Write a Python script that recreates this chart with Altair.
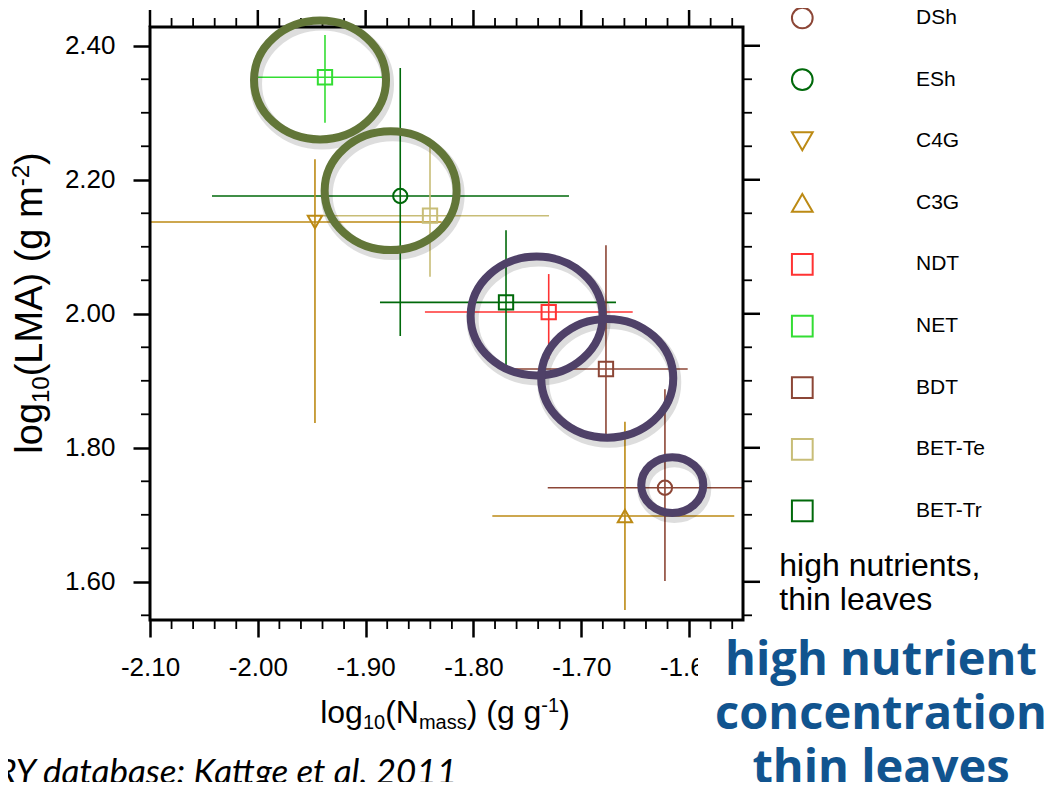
import altair as alt
import pandas as pd

# ---------------- data ----------------
pft = ["DSh", "ESh", "C4G", "C3G", "NDT", "NET", "BDT", "BET-Te", "BET-Tr"]
pft_shapes = ["circle", "circle", "triangle-down", "triangle-up", "square",
              "square", "square", "square", "square"]
pft_colors = ["#8C4636", "#00690A", "#BC8A14", "#BC8A14", "#FF3333",
              "#33DD33", "#8C4636", "#C8BD77", "#00690A"]

x_mean = [-1.6224, -1.8679, -1.9470, -1.6595, -1.7302, -1.9377, -1.6771, -1.8403, -1.7698]
x_lo = [-1.7311, -2.0425, -2.1200, -1.7825, -1.8450, -2.0033, -1.7640, -1.9423, -1.8867]
x_hi = [-1.5400, -1.7114, -1.8295, -1.5581, -1.6523, -1.8805, -1.6013, -1.7299, -1.6678]
y_mean = [1.7404, 2.1758, 2.1370, 1.6982, 2.0026, 2.3530, 1.9176, 2.1464, 2.0171]
y_lo = [1.6011, 1.9668, 1.8370, 1.5579, 1.9330, 2.2850, 1.8141, 2.0553, 1.9186]
y_hi = [1.8873, 2.3668, 2.2305, 1.8389, 2.0593, 2.4160, 2.1022, 2.2549, 2.1246]

# highlight rings (annotation)
ring_x = [-1.9423, -1.8768, -1.7414, -1.6759, -1.6156]
ring_y = [2.3489, 2.1837, 1.9967, 1.9037, 1.7444]
ring_group = ["olive", "olive", "purple", "purple", "purple"]
ring_kind = ["large", "large", "large", "large", "small"]

# axis ticks
x_major = [-2.10, -2.00, -1.90, -1.80, -1.70, -1.60]
x_minor = [-2.08, -2.06, -2.04, -2.02, -1.98, -1.96, -1.94, -1.92, -1.88, -1.86,
           -1.84, -1.82, -1.78, -1.76, -1.74, -1.72, -1.68, -1.66, -1.64, -1.62,
           -1.58, -1.56]
y_major = [1.60, 1.80, 2.00, 2.20, 2.40]
y_minor = [1.55, 1.65, 1.70, 1.75, 1.85, 1.90, 1.95, 2.05, 2.10, 2.15, 2.25, 2.30, 2.35]

# ---------------- layout / style ----------------
W, H = 593, 593
FONT = "Liberation Sans"
xs = alt.Scale(domain=[-2.10, -1.55], nice=False, zero=False)
ys = alt.Scale(domain=[1.543, 2.428], nice=False, zero=False)

# Arial / Liberation Sans advance widths (per 1000 em) for rich-text titles
AW = {'l': 222, 'o': 556, 'g': 556, '1': 556, '0': 556, '(': 333, ')': 333,
      'N': 722, 'm': 833, 'a': 556, 's': 500, ' ': 278, '-': 333, 'L': 556,
      'M': 833, 'A': 667, '2': 556}


def twidth(s, size):
    return sum(AW[c] for c in s) * size / 1000.0


one = pd.DataFrame({"k": [0]})


def rich_text(pieces, x0, y0, angle=0):
    layers = []
    adv = 0.0
    for txt, size, dy in pieces:
        kw = dict(align="left", baseline="alphabetic", fontSize=size, font=FONT,
                  color="black", dx=adv, dy=dy)
        if angle:
            kw["angle"] = angle
        layers.append(alt.Chart(one).mark_text(**kw).encode(
            x=alt.value(x0), y=alt.value(y0), text=alt.value(txt)))
        adv += twidth(txt, size)
    return layers


df = pd.DataFrame(dict(pft=pft, x=x_mean, xlo=x_lo, xhi=x_hi,
                       y=y_mean, ylo=y_lo, yhi=y_hi))
col = alt.Color("pft:N", scale=alt.Scale(domain=pft, range=pft_colors), legend=None)
shp = alt.Shape("pft:N", scale=alt.Scale(domain=pft, range=pft_shapes), legend=None)

LABEL_EXPR = "replace(format(datum.value, '.2f'), '\u2212', '-')"

# identical axis definitions used by every layer so they merge cleanly
xaxis = alt.Axis(values=x_major, labelExpr=LABEL_EXPR, title=None, domain=False, grid=False,
                 ticks=True, tickSize=17, tickWidth=2.5, tickColor="black",
                 labelFontSize=26, labelFont=FONT, labelColor="black", labelPadding=17,
                 labelFlush=False, labelOverlap=False, zindex=0)
yaxis = alt.Axis(values=y_major, labelExpr=LABEL_EXPR, title=None, domain=False, grid=False,
                 ticks=True, tickSize=17, tickWidth=2.5, tickColor="black",
                 labelFontSize=26, labelFont=FONT, labelColor="black", labelPadding=18,
                 labelFlush=False, labelOverlap=False, zindex=0)


def X(f):
    return alt.X(f, scale=xs, axis=xaxis)


def Y(f):
    return alt.Y(f, scale=ys, axis=yaxis)


hbar = alt.Chart(df).mark_rule(clip=True, strokeWidth=1.6).encode(
    x=X("xlo:Q"), x2="xhi:Q", y=Y("y:Q"), color=col)
vbar = alt.Chart(df).mark_rule(clip=True, strokeWidth=1.6).encode(
    x=X("x:Q"), y=Y("ylo:Q"), y2="yhi:Q", color=col)
pts = alt.Chart(df).mark_point(filled=False, size=205, strokeWidth=2, opacity=1).encode(
    x=X("x:Q"), y=Y("y:Q"), color=col, shape=shp)


def xticks(vals, y0, y1, w):
    return alt.Chart(pd.DataFrame({"v": vals})).mark_rule(color="black", strokeWidth=w).encode(
        x=X("v:Q"), y=alt.value(y0), y2=alt.value(y1))


def yticks(vals, x0, x1, w):
    return alt.Chart(pd.DataFrame({"v": vals})).mark_rule(color="black", strokeWidth=w).encode(
        y=Y("v:Q"), x=alt.value(x0), x2=alt.value(x1))


ticks = [
    xticks(x_major, 0, -17, 2.5), xticks(x_minor, 0, -9, 1.8), xticks(x_minor, H, H + 9, 1.8),
    yticks(y_major, W, W + 17, 2.5), yticks(y_minor, W, W + 9, 1.8), yticks(y_minor, 0, -9, 1.8),
]

# plot frame drawn as a rect mark
frame = alt.Chart(one).mark_rect(filled=False, stroke="black", strokeWidth=3).encode(
    x=alt.value(0), x2=alt.value(W), y=alt.value(0), y2=alt.value(H))

ring_df = pd.DataFrame(dict(x=ring_x, y=ring_y, grp=ring_group, kind=ring_kind))
ELLIPSE = "M -1 0 A 1 0.9 0 1 1 1 0 A 1 0.9 0 1 1 -1 0 Z"
ring_size = alt.Size("kind:O", scale=alt.Scale(domain=["large", "small"], range=[17424, 3844]),
                     legend=None)
shadow = alt.Chart(ring_df).mark_point(shape=ELLIPSE, filled=False, strokeWidth=12,
                                       color="#000000", opacity=0.13, xOffset=2, yOffset=4).encode(
    x=X("x:Q"), y=Y("y:Q"), size=ring_size)
rings = alt.Chart(ring_df).mark_point(shape=ELLIPSE, filled=False, strokeWidth=8, opacity=1).encode(
    x=X("x:Q"), y=Y("y:Q"), size=ring_size,
    stroke=alt.Stroke("grp:N", scale=alt.Scale(domain=["olive", "purple"],
                                               range=["#627638", "#4F4168"]), legend=None))

# custom legend on the right (row position computed from row index, in pixels)
leg_df = pd.DataFrame({"pft": pft, "row": list(range(len(pft)))})
leg_base = alt.Chart(leg_df).transform_calculate(ypix="-9.0 + datum.row * 61.62")
leg_pts = leg_base.mark_point(filled=False, size=430, strokeWidth=2, opacity=1).encode(
    x=alt.value(652.3), y=alt.Y("ypix:Q", scale=None), color=col, shape=shp)
leg_txt = leg_base.mark_text(align="left", baseline="middle", fontSize=21, font=FONT,
                             color="black").encode(
    x=alt.value(766), y=alt.Y("ypix:Q", scale=None), text="pft:N")

# annotations
hn = alt.Chart(one).mark_text(align="left", baseline="alphabetic", fontSize=32, font=FONT,
                              color="black", lineHeight=34.3).encode(
    x=alt.value(629.3), y=alt.value(548.7), text=alt.value(["high nutrients,", "thin leaves"]))
box = alt.Chart(one).mark_rect(color="white").encode(
    x=alt.value(548), x2=alt.value(910), y=alt.value(613), y2=alt.value(780))
blue = alt.Chart(one).mark_text(align="center", baseline="alphabetic", fontSize=47,
                                fontWeight="bold", font="Open Sans", color="#11548F",
                                lineHeight=54).encode(
    x=alt.value(731), y=alt.value(648),
    text=alt.value(["high nutrient", "concentration", "thin leaves"]))
src = alt.Chart(one).mark_text(align="right", baseline="alphabetic", fontSize=35,
                               fontStyle="italic", font="Lato", color="black").encode(
    x=alt.value(307), y=alt.value(757), text=alt.value("TRY database: Kattge et al. 2011"))

xt_pieces = [("log", 32, 0), ("10", 20, 6), ("(N", 32, 0), ("mass", 20, 6),
             (") (g g", 32, 0), ("-1", 20, -11), (")", 32, 0)]
yt_pieces = [("log", 38, 0), ("10", 24, 7), ("(LMA) (g m", 38, 0), ("-2", 24, -13), (")", 38, 0)]
xw = sum(twidth(t, s) for t, s, _ in xt_pieces)
yw = sum(twidth(t, s) for t, s, _ in yt_pieces)
xtitle = rich_text(xt_pieces, W / 2 - xw / 2 - 1.5, 696)
ytitle = rich_text(yt_pieces, -108, 276 + yw / 2, angle=270)

chart = alt.layer(
    hbar, vbar, pts, *ticks, frame, shadow, rings, leg_pts, leg_txt,
    hn, box, blue, src, *xtitle, *ytitle
).properties(
    width=W, height=H,
    autosize=alt.AutoSizeParams(type="none"),
    padding={"left": 142, "top": 19, "right": 302, "bottom": 162},
).configure_view(stroke=None).configure(background="white")

chart.save("out.html", embed_options={"renderer": "svg", "actions": False})
